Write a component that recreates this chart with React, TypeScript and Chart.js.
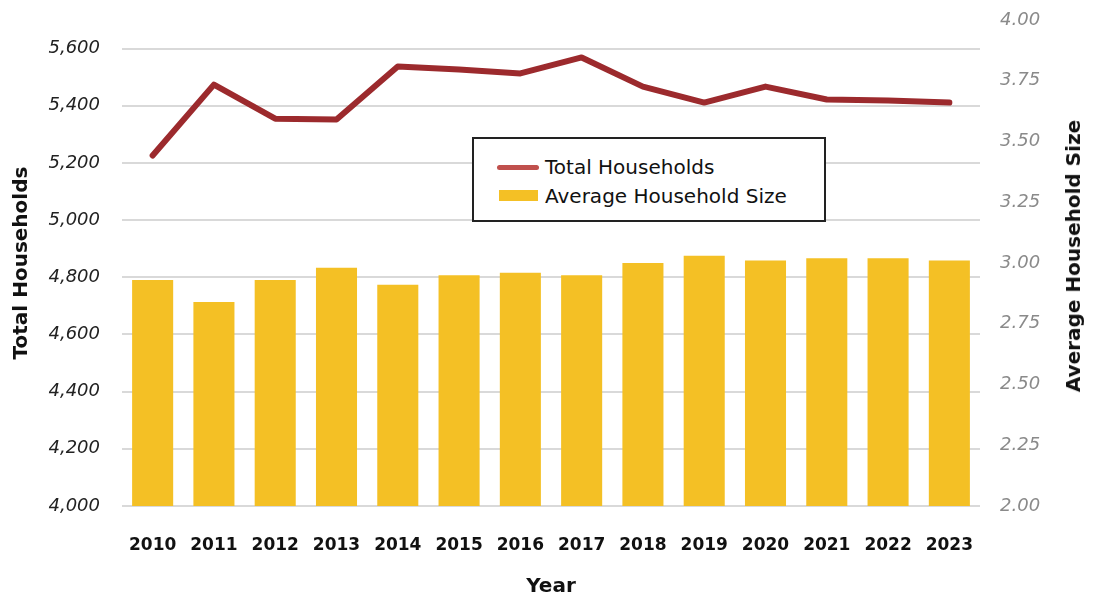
import React, { useEffect, useRef } from "react";
import { Chart, registerables } from "chart.js";

Chart.register(...registerables);

const years = ["2010", "2011", "2012", "2013", "2014", "2015", "2016", "2017", "2018", "2019", "2020", "2021", "2022", "2023"];
const totalHouseholds = [5226, 5474, 5355, 5352, 5537, 5527, 5513, 5569, 5467, 5411, 5467, 5422, 5418, 5411];
const avgHouseholdSize = [2.93, 2.84, 2.93, 2.98, 2.91, 2.95, 2.96, 2.95, 3.0, 3.03, 3.01, 3.02, 3.02, 3.01];
const leftTickMax = 5600;

const FONT = "'DejaVu Sans', sans-serif";
const LINE_COLOR = "#9c2a2d";
const LEGEND_LINE_COLOR = "#c0504d";
const BAR_COLOR = "#f4c025";

const zeroVPad = (scale: any) => {
  scale.paddingTop = 0;
  scale.paddingBottom = 0;
};

export default function App() {
  const canvasRef = useRef<HTMLCanvasElement | null>(null);

  useEffect(() => {
    if (!canvasRef.current) return;
    const chart = new Chart(canvasRef.current, {
      type: "bar",
      data: {
        labels: years,
        datasets: [
          {
            type: "line",
            label: "Total Households",
            data: totalHouseholds,
            yAxisID: "y",
            borderColor: LINE_COLOR,
            backgroundColor: LINE_COLOR,
            borderWidth: 6,
            borderCapStyle: "round",
            borderJoinStyle: "round",
            pointRadius: 0,
            tension: 0,
            order: 0,
          } as any,
          {
            type: "bar",
            label: "Average Household Size",
            data: avgHouseholdSize,
            yAxisID: "y1",
            backgroundColor: BAR_COLOR,
            barPercentage: 0.67,
            categoryPercentage: 1,
            order: 1,
          },
        ],
      },
      options: {
        responsive: false,
        animation: false,
        layout: { padding: { top: 20, left: 0, right: 0, bottom: 0 } },
        plugins: { legend: { display: false }, tooltip: { enabled: false } },
        scales: {
          x: {
            grid: { display: false },
            border: { display: false },
            ticks: { color: "#111", font: { family: FONT, size: 17, weight: "bold" }, padding: 21 },
            title: {
              display: true,
              text: "Year",
              color: "#111",
              font: { family: FONT, size: 20, weight: "bold", lineHeight: 1 },
              padding: { top: 0, bottom: -1 },
            },
            afterFit: (scale: any) => {
              scale.height = 90;
              scale.paddingLeft = 0;
              scale.paddingRight = 0;
            },
          },
          y: {
            position: "left",
            min: 4000,
            max: 5700,
            afterBuildTicks: (scale: any) => {
              scale.ticks = scale.ticks.filter((t: any) => t.value <= leftTickMax);
            },
            ticks: {
              stepSize: 200,
              color: "#222",
              padding: 22,
              font: { family: FONT, size: 18, style: "italic" },
              callback: (v: any) => Number(v).toLocaleString("en-US"),
            },
            grid: { color: "#d9d9d9", lineWidth: 2, drawTicks: false },
            border: { display: false },
            title: {
              display: true,
              text: "Total Households",
              color: "#111",
              font: { family: FONT, size: 20, weight: "bold", lineHeight: 1 },
              padding: { top: 12, bottom: 0 },
            },
            afterFit: (scale: any) => {
              scale.width = 122;
              zeroVPad(scale);
            },
          },
          y1: {
            position: "right",
            min: 2,
            max: 4,
            ticks: {
              stepSize: 0.25,
              color: "#8a8a8a",
              padding: 20,
              font: { family: FONT, size: 18, style: "italic" },
              callback: (v: any) => Number(v).toFixed(2),
            },
            grid: { display: false, drawTicks: false },
            border: { display: false },
            afterFit: (scale: any) => {
              scale.width = 119;
              zeroVPad(scale);
            },
          },
        },
      } as any,
    });
    return () => chart.destroy();
  }, []);

  return (
    <div style={{ position: "absolute", left: 0, top: 0, width: 1099, height: 596, background: "#fff", fontFamily: FONT }}>
      <canvas ref={canvasRef} width={1099} height={596} style={{ display: "block" }} />
      <div
        style={{
          position: "absolute",
          left: 472,
          top: 137,
          width: 354,
          height: 85,
          boxSizing: "border-box",
          border: "2px solid #222",
          background: "#fff",
        }}
      >
        <div style={{ position: "absolute", left: 23, top: 26, width: 42, height: 5, borderRadius: 3, background: LEGEND_LINE_COLOR }} />
        <div style={{ position: "absolute", left: 71, top: 28, transform: "translateY(-50%)", fontSize: 20, color: "#111", whiteSpace: "nowrap", lineHeight: 1 }}>
          Total Households
        </div>
        <div style={{ position: "absolute", left: 25, top: 51, width: 39, height: 11, background: BAR_COLOR }} />
        <div style={{ position: "absolute", left: 71, top: 57, transform: "translateY(-50%)", fontSize: 20, color: "#111", whiteSpace: "nowrap", lineHeight: 1 }}>
          Average Household Size
        </div>
      </div>
      <div
        style={{
          position: "absolute",
          left: 1073,
          top: 256,
          transform: "translate(-50%, -50%) rotate(-90deg)",
          fontSize: 20,
          fontWeight: "bold",
          color: "#111",
          whiteSpace: "nowrap",
          lineHeight: 1,
        }}
      >
        Average Household Size
      </div>
    </div>
  );
}
